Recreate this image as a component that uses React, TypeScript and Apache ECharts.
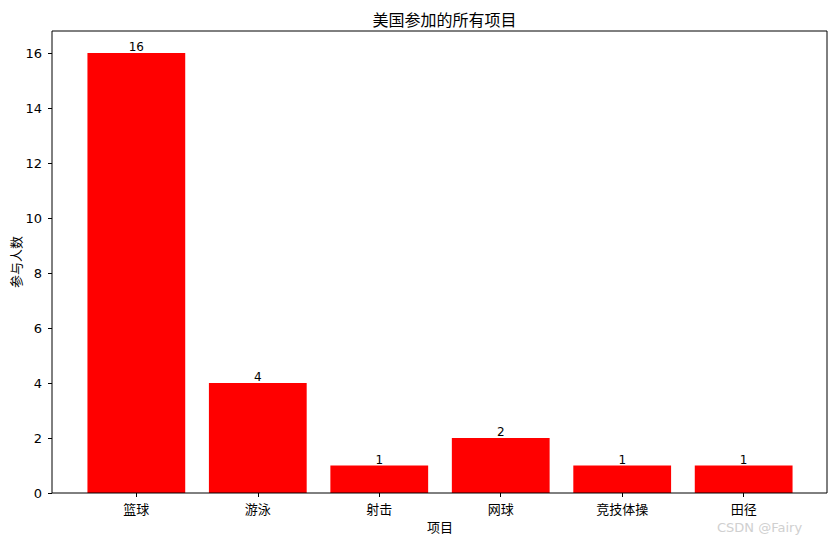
import React, { useEffect, useRef } from "react";
import * as echarts from "echarts";

const categories = ["篮球", "游泳", "射击", "网球", "竞技体操", "田径"];
const counts = [16, 4, 1, 2, 1, 1];
const yTicks = [0, 2, 4, 6, 8, 10, 12, 14, 16];

const FONT = "'DejaVu Sans', 'Noto Sans CJK SC', sans-serif";

export default function App() {
  const ref = useRef<HTMLDivElement>(null);
  useEffect(() => {
    document.body.style.margin = "0";
    if (!ref.current) return;
    const chart = echarts.init(ref.current, undefined, { renderer: "svg" });
    const frameL = 52, frameR = 827, frameT = 31, frameB = 493;
    const gridL = 75.6, gridR = 804.4;
    chart.setOption({
      animation: false,
      backgroundColor: "#ffffff",
      textStyle: { fontFamily: FONT },
      title: {
        text: "美国参加的所有项目",
        left: (frameL + frameR) / 2,
        textAlign: "center",
        top: 7,
        textStyle: { fontSize: 16, fontWeight: "normal", color: "#000", fontFamily: FONT },
      },
      grid: {
        left: gridL,
        right: 837 - gridR,
        top: frameT,
        bottom: 544 - frameB,
        containLabel: false,
        outerBoundsMode: "none",
      },
      xAxis: {
        type: "category",
        data: categories,
        boundaryGap: true,
        name: "项目",
        nameLocation: "middle",
        nameGap: 28,
        nameMoveOverlap: false,
        nameTextStyle: { fontSize: 13, color: "#000", fontFamily: FONT },
        axisLine: { show: false },
        axisTick: { show: true, alignWithLabel: true, length: 4, lineStyle: { color: "#000" } },
        axisLabel: { fontSize: 13, color: "#000", margin: 10, fontFamily: FONT },
        splitLine: { show: false },
      },
      yAxis: {
        type: "value",
        min: 0,
        max: 16.8,
        offset: gridL - frameL,
        name: "参与人数",
        nameLocation: "middle",
        nameGap: 29,
        nameMoveOverlap: false,
        nameRotate: 90,
        nameTextStyle: { fontSize: 13, color: "#000", fontFamily: FONT },
        axisLine: { show: false },
        axisTick: { show: true, length: 4, lineStyle: { color: "#000" }, customValues: yTicks },
        axisLabel: { fontSize: 13, color: "#000", margin: 10, fontFamily: FONT, customValues: yTicks },
        splitLine: { show: false },
      },
      graphic: [
        {
          type: "rect",
          shape: { x: frameL, y: frameT, width: frameR - frameL, height: frameB - frameT },
          style: { fill: "none", stroke: "#000", lineWidth: 1 },
          z: 100,
          silent: true,
        },
        {
          type: "text",
          x: 717,
          y: 521,
          style: { text: "CSDN @Fairy", fill: "#d0d0d0", fontSize: 13, fontFamily: FONT },
          z: 100,
        },
      ],
      series: [
        {
          type: "bar",
          data: counts,
          barWidth: "80.5%",
          itemStyle: { color: "#ff0000" },
          label: {
            show: true,
            position: "top",
            distance: 0,
            fontSize: 12,
            color: "#000",
            fontFamily: FONT,
          },
        },
      ],
    });
    return () => chart.dispose();
  }, []);
  return <div ref={ref} style={{ width: 837, height: 544 }} />;
}
